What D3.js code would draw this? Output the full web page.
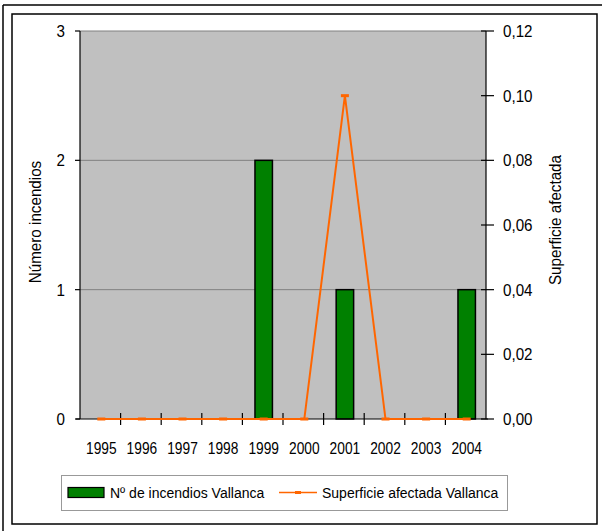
<!DOCTYPE html>
<html>
<head>
<meta charset="utf-8">
<script src="https://cdn.jsdelivr.net/npm/d3@7/dist/d3.min.js"></script>
<style>
  html, body { margin: 0; padding: 0; background: #fff; }
  svg { display: block; font-family: "Liberation Sans", Arial, sans-serif; }
</style>
</head>
<body>
<svg id="chart" width="602" height="531"></svg>
<script>
// ---- data ----
const years = ["1995","1996","1997","1998","1999","2000","2001","2002","2003","2004"];
const incendios = [0,0,0,0,2,0,1,0,0,1];
const superficie = [0,0,0,0,0,0,0.10,0,0,0];
const leftTicks = [0,1,2,3];
const rightTicks = [0,0.02,0.04,0.06,0.08,0.10,0.12];
const seriesNames = ["Nº de incendios Vallanca","Superficie afectada Vallanca"];
const axisTitles = ["Número incendios","Superficie afectada"];

// ---- layout ----
const svg = d3.select("#chart");
const L = 80, R = 486, T = 31, B = 419;

const x = d3.scaleBand().domain(years).range([L, R]).paddingInner(0).paddingOuter(0);
const yL = d3.scaleLinear().domain([0, 3]).range([B, T]);
const yR = d3.scaleLinear().domain([0, 0.12]).range([B, T]);
const fmt = d => d3.format(".2f")(d).replace(".", ",");

// outer frame lines
svg.append("line").attr("x1",3).attr("x2",602).attr("y1",5).attr("y2",5).attr("stroke","#000").attr("stroke-width",1.5);
svg.append("line").attr("x1",3).attr("x2",3).attr("y1",5).attr("y2",531).attr("stroke","#000").attr("stroke-width",1.5);
// chart area frame
svg.append("rect").attr("x",12).attr("y",14).attr("width",585).attr("height",510)
  .attr("fill","#fff").attr("stroke","#000").attr("stroke-width",1.5);

// plot background
svg.append("rect").attr("x",L).attr("y",T).attr("width",R-L).attr("height",B-T).attr("fill","#C0C0C0");

// gridlines
svg.append("g").selectAll("line").data(leftTicks.filter(d=>d>0)).join("line")
  .attr("x1",L).attr("x2",R).attr("y1",d=>yL(d)).attr("y2",d=>yL(d))
  .attr("stroke","#808080").attr("stroke-width",1);

// bars
const bw = x.bandwidth()*0.43;
svg.append("g").selectAll("rect").data(years.map((y,i)=>({y, v:incendios[i]})).filter(d=>d.v>0)).join("rect")
  .attr("x", d => x(d.y) + x.bandwidth()/2 - bw/2 + 1)
  .attr("y", d => yL(d.v))
  .attr("width", bw)
  .attr("height", d => B - yL(d.v))
  .attr("fill","#008000").attr("stroke","#000").attr("stroke-width",1.5);

// left axis
svg.append("line").attr("x1",L).attr("x2",L).attr("y1",T).attr("y2",B).attr("stroke","#000").attr("stroke-width",1.2);
svg.append("g").selectAll("line").data(leftTicks).join("line")
  .attr("x1",L-5).attr("x2",L).attr("y1",d=>yL(d)).attr("y2",d=>yL(d)).attr("stroke","#000").attr("stroke-width",1.2);
svg.append("g").selectAll("text").data(leftTicks).join("text")
  .attr("transform", d => `translate(65,${yL(d)+6}) scale(0.92,1)`)
  .attr("text-anchor","end").attr("font-size",16.5).attr("fill","#000").text(d=>d);

// right axis
svg.append("line").attr("x1",R).attr("x2",R).attr("y1",T).attr("y2",B).attr("stroke","#000").attr("stroke-width",1.2);
svg.append("g").selectAll("line").data(rightTicks).join("line")
  .attr("x1",R-5).attr("x2",R+8).attr("y1",d=>yR(d)).attr("y2",d=>yR(d)).attr("stroke","#000").attr("stroke-width",1.2);
svg.append("g").selectAll("text").data(rightTicks).join("text")
  .attr("transform", d => `translate(503,${yR(d)+6}) scale(0.92,1)`)
  .attr("text-anchor","start").attr("font-size",16.5).attr("fill","#000").text(fmt);

// x axis
svg.append("line").attr("x1",L-4).attr("x2",R+2).attr("y1",B).attr("y2",B).attr("stroke","#000").attr("stroke-width",1.2);
const bounds = years.slice(1).map(y => x(y));
svg.append("g").selectAll("line").data(bounds).join("line")
  .attr("x1",d=>d).attr("x2",d=>d).attr("y1",B-6).attr("y2",B+6).attr("stroke","#000").attr("stroke-width",1.2);
svg.append("g").selectAll("text").data(years).join("text")
  .attr("transform", d => `translate(${x(d)+x.bandwidth()/2+1},454) scale(0.86,1)`)
  .attr("text-anchor","middle").attr("font-size",16).attr("fill","#000").text(d=>d);

// line series
const pts = years.map((y,i)=>({y, v:superficie[i]}));
const line = d3.line().x(d=>x(d.y)+x.bandwidth()/2+1).y(d=>yR(d.v));
svg.append("path").datum(pts).attr("d",line).attr("fill","none").attr("stroke","#FF6600").attr("stroke-width",2);
svg.append("g").selectAll("rect").data(pts).join("rect")
  .attr("x", d => x(d.y)+x.bandwidth()/2+1-4).attr("y", d => yR(d.v)-1.5)
  .attr("width",8).attr("height",3).attr("fill","#FF6600");

// axis titles
svg.append("text").attr("transform","translate(41,222) rotate(-90) scale(0.95,1)")
  .attr("text-anchor","middle").attr("font-size",16).attr("fill","#000").text(axisTitles[0]);
svg.append("text").attr("transform","translate(561,220) rotate(-90) scale(0.95,1)")
  .attr("text-anchor","middle").attr("font-size",16).attr("fill","#000").text(axisTitles[1]);

// legend
const lg = svg.append("g");
lg.append("rect").attr("x",61.5).attr("y",475.5).attr("width",446).attr("height",35)
  .attr("fill","#fff").attr("stroke","#999").attr("stroke-width",1);
lg.append("rect").attr("x",68).attr("y",487.5).attr("width",36).attr("height",10)
  .attr("fill","#008000").attr("stroke","#000").attr("stroke-width",1.2);
lg.append("text").attr("x",110).attr("y",498).attr("font-size",14).attr("fill","#000").text(seriesNames[0]);
lg.append("line").attr("x1",279).attr("x2",317).attr("y1",492.5).attr("y2",492.5).attr("stroke","#FF6600").attr("stroke-width",1.5);
lg.append("rect").attr("x",295).attr("y",491).attr("width",6).attr("height",3).attr("fill","#FF6600");
lg.append("text").attr("x",322).attr("y",498).attr("font-size",14).attr("fill","#000").text(seriesNames[1]);
</script>
</body>
</html>
